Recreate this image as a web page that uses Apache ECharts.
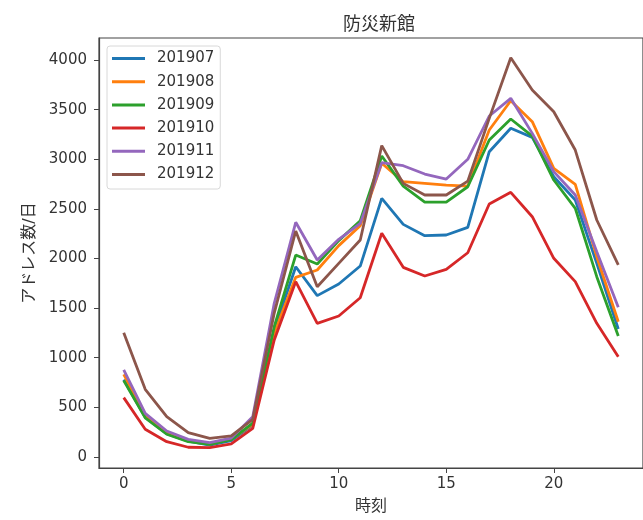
<!DOCTYPE html>
<html>
<head>
<meta charset="utf-8">
<script src="https://cdn.jsdelivr.net/npm/echarts@6/dist/echarts.min.js"></script>
<style>html,body{margin:0;padding:0;background:#fff}#c{width:643px;height:520px}</style>
</head>
<body>
<div id="c"></div>
<script>
const hours = [0,1,2,3,4,5,6,7,8,9,10,11,12,13,14,15,16,17,18,19,20,21,22,23];
const seriesNames = ['201907','201908','201909','201910','201911','201912'];
const s201907 = [780,400,235,160,120,165,320,1280,1917,1626,1743,1924,2606,2344,2230,2237,2314,3076,3312,3221,2824,2590,1951,1290];
const s201908 = [833,420,245,165,130,180,330,1246,1810,1884,2130,2330,2960,2774,2757,2740,2730,3295,3590,3379,2909,2748,2018,1363];
const s201909 = [770,395,229,154,128,175,342,1313,2035,1945,2180,2381,3033,2730,2569,2569,2723,3194,3406,3234,2791,2506,1817,1219];
const s201910 = [598,279,154,98,94,131,289,1179,1767,1347,1421,1605,2254,1911,1824,1891,2058,2549,2667,2421,2002,1767,1347,1010];
const s201911 = [877,440,262,178,144,190,406,1549,2365,1985,2193,2354,2966,2935,2851,2801,3000,3436,3614,3261,2875,2640,2069,1508];
const s201912 = [1253,682,406,245,188,212,380,1450,2277,1716,1951,2186,3137,2757,2640,2640,2780,3412,4023,3698,3479,3093,2388,1935];
const yTicks = [0,500,1000,1500,2000,2500,3000,3500,4000];
const xTicks = [0,5,10,15,20];
const colors = ['#1f77b4','#ff7f0e','#2ca02c','#d62728','#9467bd','#8c564b'];
const allData = [s201907,s201908,s201909,s201910,s201911,s201912];

const FONT = 'DejaVu Sans, "Noto Sans CJK JP", sans-serif';
const chart = echarts.init(document.getElementById('c'), null, {renderer:'canvas'});
chart.setOption({
  animation:false,
  backgroundColor:'#fff',
  color: colors,
  title:{text:'防災新館', left:338, top:11, textStyle:{fontFamily:FONT, fontSize:18, fontWeight:'normal', color:'#333'}},
  grid:{left:99, right:-6, top:38, bottom:52, show:true, borderColor:'#444', borderWidth:1.2, backgroundColor:'transparent'},
  legend:{
    orient:'vertical', left:107, top:46,
    itemWidth:33, itemHeight:14, itemGap:8.2,
    padding:[5,6,7,5],
    icon:'path://M0,0H33V3H0Z',
    borderColor:'#d8d8d8', borderWidth:1, borderRadius:3,
    backgroundColor:'rgba(255,255,255,0.8)',
    textStyle:{fontFamily:FONT, fontSize:15, color:'#333', padding:[0,0,0,7]},
    data: seriesNames
  },
  xAxis:{
    type:'value', min:-1.15, max:24.15,
    name:'時刻', nameLocation:'middle', nameGap:31,
    nameTextStyle:{fontFamily:FONT, fontSize:16, color:'#333'},
    axisLine:{show:true, onZero:false, lineStyle:{color:'#444', width:1.2}},
    axisTick:{show:true, length:5, customValues:xTicks, lineStyle:{color:'#444'}},
    axisLabel:{customValues:xTicks, fontFamily:FONT, fontSize:15, color:'#333', margin:9, formatter:v=>String(v)},
    splitLine:{show:false}
  },
  yAxis:{
    type:'value', min:-111, max:4222,
    name:'アドレス数/日', nameLocation:'middle', nameGap:44,
    nameTextStyle:{fontFamily:FONT, fontSize:16, color:'#333'},
    axisLine:{show:true, onZero:false, lineStyle:{color:'#444', width:1.2}},
    axisTick:{show:true, length:5, customValues:yTicks, lineStyle:{color:'#444'}},
    axisLabel:{customValues:yTicks, fontFamily:FONT, fontSize:15, color:'#333', margin:12, formatter:v=>String(v)},
    splitLine:{show:false}
  },
  series: seriesNames.map((n,i)=>({
    name:n, type:'line', symbol:'none',
    data: hours.map((h,j)=>[h, allData[i][j]]),
    lineStyle:{width:2.8, color:colors[i]},
    itemStyle:{color:colors[i]}
  }))
});
</script>
</body>
</html>
